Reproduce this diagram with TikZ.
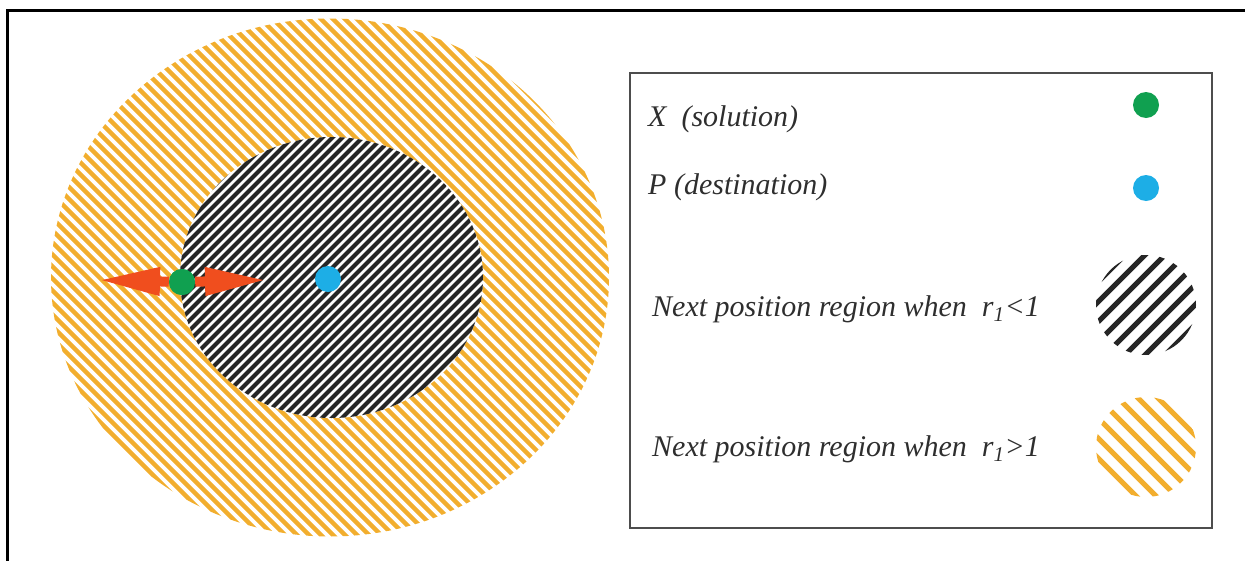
\documentclass[tikz,border=0pt]{standalone}
\usepackage{fontspec}
\setmainfont{Liberation Serif}
\usetikzlibrary{arrows.meta}
\definecolor{hatchorange}{HTML}{F2AE2E}
\definecolor{hatchblack}{HTML}{262626}
\definecolor{solgreen}{HTML}{10A050}
\definecolor{destblue}{HTML}{1DAEE6}
\definecolor{moveRed}{HTML}{F04E1E}
\definecolor{boxgray}{HTML}{4D4D4D}
\definecolor{legendink}{HTML}{2E2E2E}
\begin{document}
\begin{tikzpicture}[x=1pt,y=-1pt,
  dot/.style={circle,inner sep=0pt,minimum size=26pt},
  legtext/.style={anchor=base west,inner sep=0pt,text=legendink,
    font=\itshape\fontsize{30}{30}\selectfont},
  move/.style={draw=moveRed,line width=10pt,
    -{Triangle[length=62pt,width=26pt]}},
  orangehatch/.style={hatchorange,line width=4.5pt},
  blackhatch/.style={hatchblack,line width=4pt}]
\useasboundingbox (0,0) rectangle (1245,560);

% frame (only its left and top sides fall inside the page)
\draw[line width=3pt] (7,620) -- (7,10) -- (1300,10);

% outer region, r1 > 1
\begin{scope}
  \clip (330,277.5) ellipse [x radius=279, y radius=259];
  \foreach \a in {-502,-490,...,612}
    \draw[orangehatch] (\a,0) -- ++(580,580);
\end{scope}

% inner region, r1 < 1
\fill[white] (331.5,277.5) ellipse [x radius=151.5, y radius=140.5];
\begin{scope}
  \clip (331.5,277.5) ellipse [x radius=151.5, y radius=140.5];
  \foreach \a in {310,320,...,910}
    \draw[blackhatch] (\a,0) -- ++(-600,600);
\end{scope}

% solution, destination and the two moving directions
\node[dot,fill=solgreen] (X) at (182,282) {};
\node[dot,fill=destblue] (P) at (328,279) {};
\coordinate (lefttip) at (98,280);
\coordinate (righttip) at (267,280);
\draw[move] (X) -- (lefttip);
\draw[move] (X) -- (righttip);
\node[dot,fill=solgreen] at (X) {};

% legend
\node[draw=boxgray,line width=2pt,inner sep=0pt,minimum width=582pt,
  minimum height=455pt] (legend) at (921,300.5) {};
\node[legtext] (lx) at (648,126) {X\ \ (solution)};
\node[legtext] (lp) at (648,194) {P\ (destination)};
\node[legtext] (linner) at (652,316) {Next position region when\ \ r\textsubscript{1}<1};
\node[legtext] (louter) at (652,456) {Next position region when\ \ r\textsubscript{1}>1};

\node[dot,fill=solgreen] (kx) at (1146,105) {};
\node[dot,fill=destblue] (kp) at (1146,188) {};

\begin{scope}
  \clip (1146,305) circle [radius=50];
  \foreach \a in {1000,1020,...,1520}
    \draw[hatchblack,line width=5pt] (\a,200) -- ++(-200,200);
\end{scope}
\begin{scope}
  \clip (1146,447) circle [radius=50];
  \foreach \a in {600,620,...,1100}
    \draw[hatchorange,line width=5pt] (\a,340) -- ++(200,200);
\end{scope}
\end{tikzpicture}
\end{document}
